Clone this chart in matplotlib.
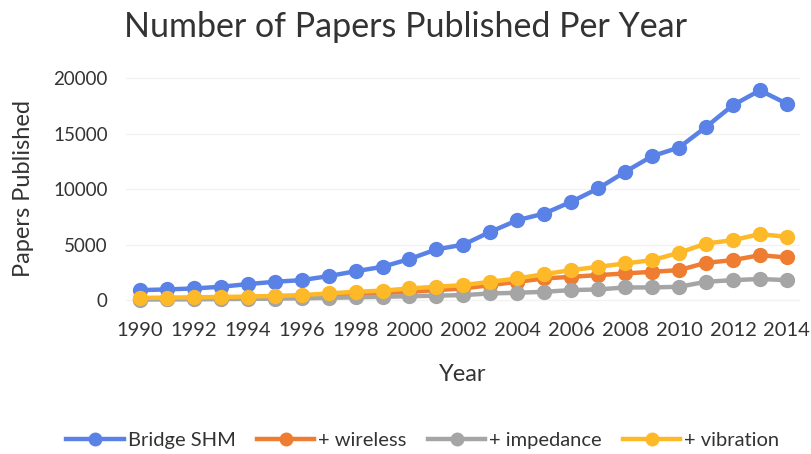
import matplotlib
matplotlib.use("Agg")
import matplotlib.pyplot as plt

plt.rcParams['font.family'] = ['Lato', 'DejaVu Sans']

years = list(range(1990, 2015))

bridge_shm = [900, 960, 1050, 1200, 1440, 1650, 1800, 2160, 2600, 3000,
              3700, 4570, 5000, 6150, 7200, 7800, 8860, 10060, 11560, 12970,
              13750, 15600, 17570, 18900, 17700]
wireless = [120, 140, 160, 190, 230, 270, 330, 420, 520, 620,
            750, 900, 1050, 1350, 1650, 1950, 2100, 2250, 2400, 2550,
            2700, 3360, 3600, 4050, 3840]
impedance = [50, 60, 70, 90, 110, 130, 160, 200, 250, 300,
             350, 400, 450, 600, 660, 750, 900, 960, 1140, 1140,
             1200, 1650, 1800, 1900, 1800]
vibration = [200, 220, 250, 280, 320, 380, 450, 600, 750, 850,
             1050, 1200, 1350, 1650, 1950, 2340, 2700, 3000, 3300, 3600,
             4260, 5100, 5400, 5950, 5700]

series = [
    ("Bridge SHM", bridge_shm, "#5a82e6"),
    ("+ wireless", wireless, "#ee7d31"),
    ("+ impedance", impedance, "#a5a5a5"),
    ("+ vibration", vibration, "#fdb927"),
]

txt = '#333333'

fig = plt.figure(figsize=(8.12, 4.54), dpi=100)
ax = fig.add_axes([0.155, 0.328, 0.83, 0.513])

for name, vals, col in series:
    ax.plot(years, vals, color=col, lw=3.2, marker='o', markersize=10,
            label=name, clip_on=False)

ax.set_xlim(1989.48, 2014.48)
ax.set_ylim(-450, 20540)
ax.set_xticks(years[::2])
ax.set_yticks(range(0, 20001, 5000))
ax.tick_params(axis='both', length=0, colors=txt)
ax.tick_params(axis='x', labelsize=14.5, pad=12)
ax.tick_params(axis='y', labelsize=13.5, pad=13)
ax.grid(axis='y', color='#f2f2f2', lw=1)
ax.set_axisbelow(True)
for s in ax.spines.values():
    s.set_visible(False)

ax.set_xlabel("Year", fontsize=17, color=txt, labelpad=18)
ax.set_ylabel("Papers Published", fontsize=17, color=txt, labelpad=14)
fig.text(0.5, 0.94, "Number of Papers Published Per Year", ha='center', va='center',
         fontsize=24.5, color=txt)

fig.legend(loc='center', bbox_to_anchor=(0.521, 0.03), ncol=4, frameon=False,
           fontsize=14.5, handlelength=2.85, columnspacing=1.05, handletextpad=0.2,
           borderaxespad=0, labelcolor=txt, markerscale=0.9)

fig.savefig("out.png", dpi=100)
